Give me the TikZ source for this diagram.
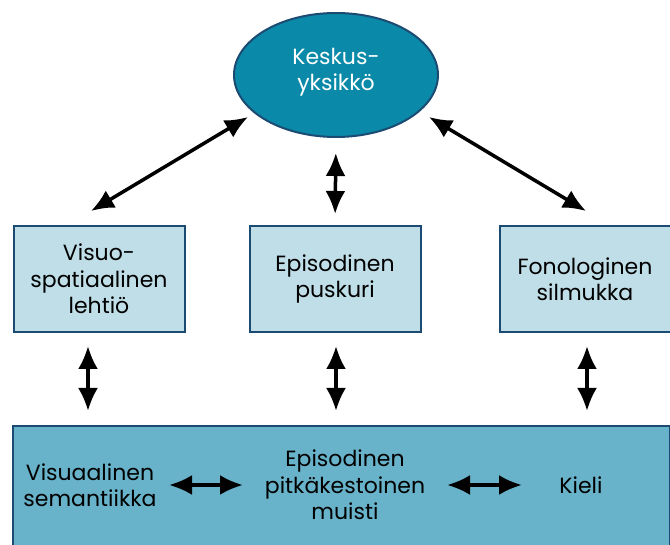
\documentclass[tikz,border=0pt]{standalone}
\usepackage{fontspec}
\setmainfont{Poppins}
\usetikzlibrary{shapes.geometric,arrows.meta,calc}

\definecolor{keskblue}{HTML}{0A8AA8}
\definecolor{boxblue}{HTML}{BFDEE8}
\definecolor{membox}{HTML}{68B3CA}
\definecolor{edgeblue}{HTML}{1B4B72}

\tikzset{
  lbl/.style={font=\fontsize{22}{26.5}\selectfont, align=center, inner sep=0pt},
  subbox/.style={draw=edgeblue, line width=2pt, fill=boxblue, minimum width=171pt, minimum height=106pt, lbl},
  dblarr/.style={line width=3.5pt, {Latex[length=23pt,width=20pt]}-{Latex[length=23pt,width=20pt]}}
}

\begin{document}
\begin{tikzpicture}[x=1pt,y=-1pt]  % pikselikoordinaatit, y alaspäin

    \useasboundingbox (0,0) rectangle (670,545);

    % keskusyksikkö
    \node[ellipse, draw=edgeblue, line width=2pt, fill=keskblue, minimum width=204pt, minimum height=124pt, inner sep=0pt] (kesk) at (336,75) {};
    \node[lbl, text=white] (kesktxt) at (336,72) {Keskus-\\yksikkö};

    % alijärjestelmät
    \node[subbox] (vis) at (99,279) {Visuo-\\spatiaalinen\\lehtiö};
    \node[subbox] (epi) at (335,279) {Episodinen\\puskuri};
    \node[subbox] (fon) at (585,279) {Fonologinen\\silmukka};

    % pitkäkestoinen muisti
    \node[draw=edgeblue, line width=2pt, fill=membox, minimum width=657pt, minimum height=130pt, inner sep=0pt] (mem) at (341.5,491) {};
    \node[lbl] (vissem) at (90,485) {Visuaalinen\\semantiikka};
    \node[lbl] (pkm) at (345,485) {Episodinen\\pitkäkestoinen\\muisti};
    \node[lbl] (kieli) at (581,485) {Kieli};

    % nuolet keskusyksikköön
    \draw[dblarr] ($(vis.north)+(-8,-14)$) -- ($(kesk.center)+(-88,42)$);
    \draw[dblarr, shorten <=15pt, shorten >=11pt] (kesk.south) -- (epi.north);
    \draw[dblarr] ($(fon.north)+(1,-14)$) -- ($(kesk.center)+(93,42)$);

    % nuolet muistiin
    \draw[dblarr, shorten <=13pt, shorten >=14pt] (vis.south -| 88,0) -- (mem.north -| 88,0);
    \draw[dblarr, shorten <=13pt, shorten >=14pt] (epi.south -| 336,0) -- (mem.north -| 336,0);
    \draw[dblarr, shorten <=13pt, shorten >=14pt] (fon.south -| 587,0) -- (mem.north -| 587,0);

    % vaakanuolet
    \draw[dblarr] (vissem.east -| 169,0) -- (pkm.west -| 243,0);
    \draw[dblarr] (pkm.east -| 447,0) -- (kieli.west -| 522,0);

\end{tikzpicture}
\end{document}
